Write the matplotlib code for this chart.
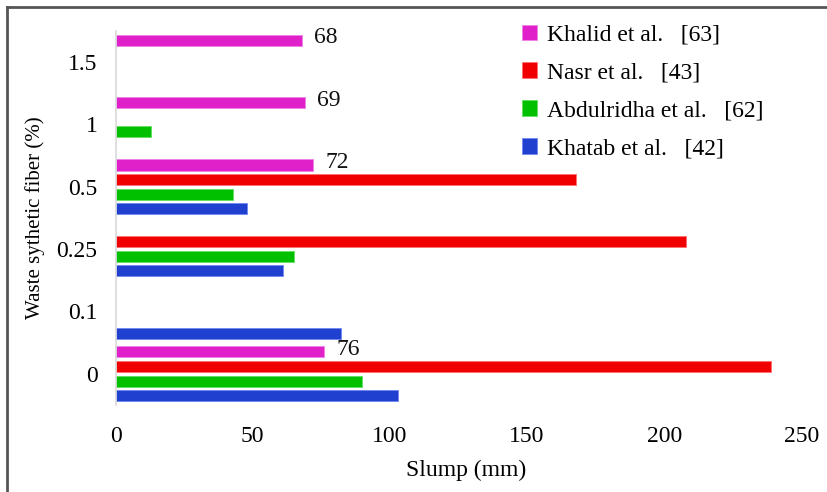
import matplotlib
matplotlib.use("Agg")
import matplotlib.pyplot as plt
import numpy as np
from matplotlib.lines import Line2D
from matplotlib.patches import Patch

# ---- data ----
categories = ["0", "0.1", "0.25", "0.5", "1", "1.5"]
series_names = ["Khatab et al.   [42]", "Abdulridha et al.   [62]",
                "Nasr et al.   [43]", "Khalid et al.   [63]"]
khatab = [103, 82, 61, 48, np.nan, np.nan]
abdulridha = [90, np.nan, 65, 43, 13, np.nan]
nasr = [239, np.nan, 208, 168, np.nan, np.nan]
khalid = [76, np.nan, np.nan, 72, 69, 68]
x_ticks = [0, 50, 100, 150, 200, 250]

colors = ["#2040D0", "#00C000", "#F00000", "#E020C8"]
edges = ["#6F86F0", "#60E060", "#FF7070", "#F080E8"]

plt.rcParams["font.family"] = ["Liberation Serif", "DejaVu Serif"]

fig = plt.figure(figsize=(8.28, 4.92), dpi=100)
ax = fig.add_axes([0.1395, 0.177, 0.8285, 0.76])

ypos = np.arange(len(categories))
step = 0.233
h = 0.177
all_series = [khatab, abdulridha, nasr, khalid]
for i, (vals, c, ec) in enumerate(zip(all_series, colors, edges)):
    off = (i - 1.5) * step
    v = np.array(vals, dtype=float)
    m = ~np.isnan(v)
    ax.barh(ypos[m] + off, v[m], height=h, color=c, edgecolor=ec, linewidth=0.6)

# data labels for Khalid et al.
kv = np.array(khalid, dtype=float)
for yi, v in zip(ypos, kv):
    if not np.isnan(v):
        ax.text(v + 4.5, yi + 1.5 * step + 0.04, f"{int(v)}", va="center", ha="left",
                fontsize=17, color="#111111")

ax.set_xlim(0, 250)
ax.set_ylim(-0.5, 5.5)
ax.set_xticks(x_ticks)
ax.set_xticklabels([str(t) for t in x_ticks], fontsize=17)
ax.set_yticks(ypos)
ax.set_yticklabels(categories, fontsize=17)
ax.tick_params(length=0)
ax.tick_params(axis="y", pad=13)
ax.tick_params(axis="x", pad=15)
for s in ["top", "right", "bottom"]:
    ax.spines[s].set_visible(False)
ax.spines["left"].set_color("#D9D9D9")
ax.spines["left"].set_linewidth(1.2)

ax.set_xlabel("Slump (mm)", fontsize=17)
ax.xaxis.set_label_coords(0.511, -0.147)
ax.set_ylabel("Waste sythetic fiber (%)", fontsize=15, labelpad=8)

handles = [Patch(facecolor=colors[i], edgecolor=edges[i], linewidth=0.6) for i in [3, 2, 1, 0]]
labels = [series_names[i] for i in [3, 2, 1, 0]]
fig.legend(handles, labels, loc="upper left", bbox_to_anchor=(505 / 828, 1 - 8 / 492),
           frameon=False, fontsize=17, handlelength=0.65, handleheight=0.65,
           handletextpad=0.45, labelspacing=0.71, borderpad=0.2)

# outer border (left and top)
fig.add_artist(Line2D([7 / 828, 7 / 828], [0, 1 - 7 / 492], transform=fig.transFigure,
                      color="#555555", linewidth=2))
fig.add_artist(Line2D([7 / 828, 1], [1 - 7 / 492, 1 - 7 / 492], transform=fig.transFigure,
                      color="#555555", linewidth=2))

fig.savefig("out.png", dpi=100)
